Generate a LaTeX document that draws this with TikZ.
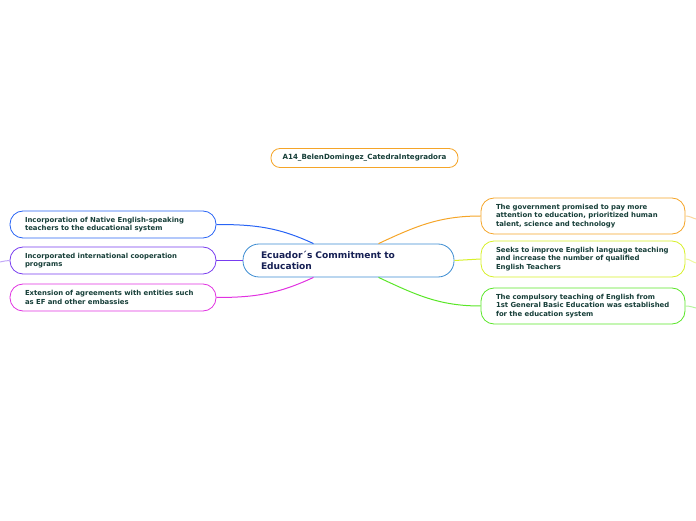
\documentclass[tikz,border=0pt]{standalone}
\usepackage{fontspec}
\setmainfont{DejaVu Sans}
\usepackage{tikz}
\usetikzlibrary{positioning}

\definecolor{txtdark}{RGB}{22,62,56}
\definecolor{navy}{RGB}{22,32,84}
\definecolor{coreblue}{RGB}{60,140,210}
\definecolor{lblue}{RGB}{40,100,245}
\definecolor{lpurple}{RGB}{120,60,240}
\definecolor{lmagenta}{RGB}{225,50,225}
\definecolor{rorange}{RGB}{245,165,40}
\definecolor{ryellow}{RGB}{215,240,40}
\definecolor{rgreen}{RGB}{90,230,40}

\begin{document}
\begin{tikzpicture}[x=1pt,y=1pt,
    every node/.style={rectangle,rounded corners=13pt,line width=0.8pt,fill=white,font=\fontsize{6.9}{8.6}\selectfont\bfseries,text=txtdark,align=left},
    leftbox/.style={minimum width=206pt,minimum height=27pt,text width=176pt,inner xsep=15pt},
    rightbox/.style={minimum width=204pt,minimum height=36pt,text width=174pt,inner xsep=15pt},
    link/.style={line width=1pt}]
    \useasboundingbox (0,0) rectangle (696,520);

    \node (title)[draw=rorange,minimum width=187pt,minimum height=19pt,rounded corners=9pt,align=center,font=\fontsize{7.1}{8.6}\selectfont\bfseries] at (364.5, 362) {A14\_BelenDomingez\_CatedraIntegradora};
    \node (core)[draw=coreblue,minimum width=211pt,minimum height=33pt,text width=175pt,inner xsep=18pt,rounded corners=16pt,text=navy,font=\fontsize{9.1}{11.5}\selectfont\bfseries] at (348.5, 259.5) {Ecuador´s Commitment to \\ Education};

    \node (native)[leftbox,draw=lblue] at (113, 295.5) {Incorporation of Native English-speaking \\ teachers to the educational system};
    \node (coop)[leftbox,draw=lpurple] at (113, 259.5) {Incorporated international cooperation \\ programs};
    \node (embassy)[leftbox,draw=lmagenta] at (113, 222.5) {Extension of agreements with entities such \\ as EF and other embassies};

    \node (promise)[rightbox,draw=rorange] at (583, 304) {The government promised to pay more \\ attention to education, prioritized human \\ talent, science and technology};
    \node (improve)[rightbox,draw=ryellow] at (583, 261) {Seeks to improve English language teaching \\ and increase the number of qualified \\ English Teachers};
    \node (compulsory)[rightbox,draw=rgreen] at (583, 214) {The compulsory teaching of English from \\ 1st General Basic Education was established \\ for the education system};

    \coordinate (coopstub) at (0, 258);
    \coordinate (promisestub) at (696, 301);
    \coordinate (improvestub) at (696, 257);
    \coordinate (compulsorystub) at (696, 212);

    \path [link,draw=lblue] (native.east) to[out=0,in=155] ([xshift=-35pt]core.north);
    \path [link,draw=lpurple] (coop.east) -- (core.west);
    \path [link,draw=lmagenta] (embassy.east) to[out=0,in=205] ([xshift=-35pt]core.south);
    \path [link,draw=rorange] ([xshift=30pt]core.north) to[out=25,in=180] (promise.west);
    \path [link,draw=ryellow] (core.east) -- (improve.west);
    \path [link,draw=rgreen] ([xshift=30pt]core.south) to[out=-25,in=180] (compulsory.west);

    \path [link,draw=lpurple!45] (coop.west) to[out=180,in=10] (coopstub);
    \path [link,draw=rorange!45] (promise.east) to[out=0,in=165] (promisestub);
    \path [link,draw=ryellow!45] (improve.east) to[out=0,in=165] (improvestub);
    \path [link,draw=rgreen!45] (compulsory.east) to[out=0,in=165] (compulsorystub);
\end{tikzpicture}
\end{document}
